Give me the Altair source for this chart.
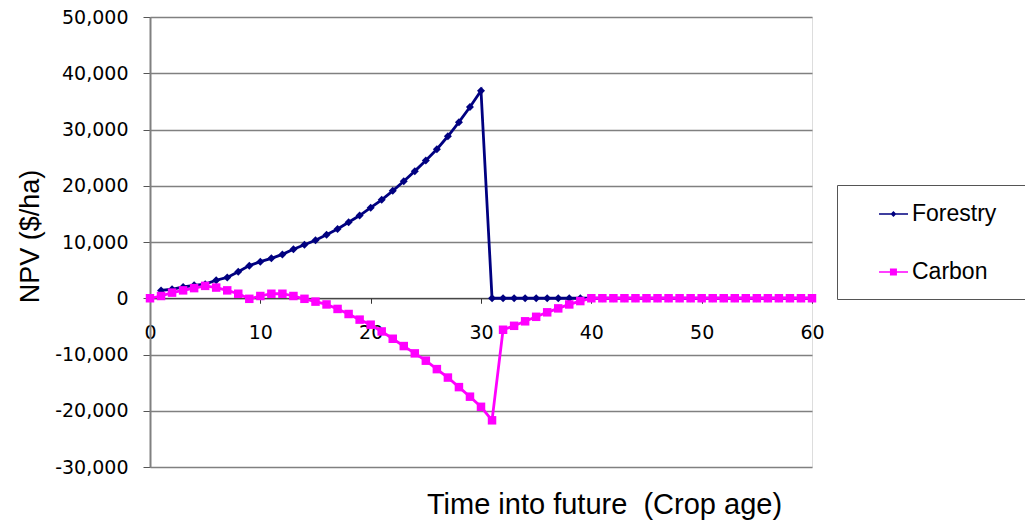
import altair as alt
import pandas as pd

series_names = ["Forestry", "Carbon"]
series_colors = ["#000080", "#FF00FF"]

forestry_age = list(range(1, 61))
forestry_npv = [1400, 1600, 2000, 2300, 2500, 3200, 3700, 4700, 5800, 6500,
                7100, 7800, 8700, 9500, 10300, 11300, 12300, 13500, 14700, 16100,
                17500, 19100, 20800, 22600, 24500, 26500, 28800, 31300, 34000, 36900,
                0, 0, 0, 0, 0, 0, 0, 0, 0, 0,
                0, 0, 0, 0, 0, 0, 0, 0, 0, 0,
                0, 0, 0, 0, 0, 0, 0, 0, 0, 0]

carbon_age = list(range(0, 61))
carbon_npv = [0, 400, 1000, 1400, 1800, 2200, 1900, 1400, 800, -100,
              400, 800, 800, 400, -100, -600, -1100, -1900, -2800, -3800,
              -4700, -5900, -7200, -8500, -9800, -11100, -12600, -14100, -15800, -17500,
              -19300, -21700, -5600, -4900, -4100, -3300, -2500, -1800, -1100, -500,
              0, 0, 0, 0, 0, 0, 0, 0, 0, 0,
              0, 0, 0, 0, 0, 0, 0, 0, 0, 0, 0]

x_ticks = [0, 10, 20, 30, 40, 50, 60]
y_ticks = [-30000, -20000, -10000, 0, 10000, 20000, 30000, 40000, 50000]

# legend glyphs: short line with the series marker in its middle
legend_paths = [
    "M0.93,-0.054H3.0V0.054H0.93Z M1.96,-0.21L2.17,0L1.96,0.21L1.75,0Z",
    "M0.93,-0.054H3.0V0.054H0.93Z M1.71,-0.25H2.21V0.25H1.71Z",
]

df = pd.concat([
    pd.DataFrame({"age": forestry_age, "npv": forestry_npv, "series": "Forestry"}),
    pd.DataFrame({"age": carbon_age, "npv": carbon_npv, "series": "Carbon"}),
], ignore_index=True)

W, H = 662, 450

x_enc = alt.X(
    "age:Q",
    scale=alt.Scale(domain=[0, 60], nice=False, zero=False),
    axis=alt.Axis(
        values=x_ticks, grid=False, offset=-H * 30000 / 80000, labelFlush=False,
        domainColor="#333333", domainWidth=1, tickColor="#333333", tickSize=5,
        labelFont="DejaVu Sans", labelFontSize=19, labelColor="black", labelPadding=20,
        title="Time into future \u00a0(Crop age)", titleFont="Liberation Sans",
        titleFontSize=29, titleFontWeight="normal", titleColor="black",
        titleX=454, titleY=215, titleAlign="center", titleBaseline="alphabetic",
    ),
)
y_enc = alt.Y(
    "npv:Q",
    scale=alt.Scale(domain=[-30000, 50000], nice=False),
    axis=alt.Axis(
        values=y_ticks, labelFlush=False,
        labelExpr="replace(format(datum.value, ','), '\u2212', '-')",
        grid=True, gridColor="#808080", gridWidth=1.5,
        domainColor="#808080", domainWidth=2, tickColor="#555555", tickSize=7,
        labelFont="DejaVu Sans", labelFontSize=19, labelColor="black", labelPadding=15,
        title="NPV ($/ha)", titleFont="Liberation Sans", titleFontSize=27,
        titleFontWeight="normal", titleColor="black",
        titleX=-112, titleY=219, titleAngle=270, titleAlign="center",
        titleBaseline="alphabetic",
    ),
)

base = alt.Chart(df)


def series_layers(name, color, shape, size):
    sub = base.transform_filter(alt.datum.series == name)
    line = sub.mark_line(strokeWidth=2.8, color=color).encode(x=x_enc, y=y_enc)
    pts = sub.mark_point(filled=True, shape=shape, size=size, opacity=1, color=color).encode(
        x=x_enc, y=y_enc)
    return [line, pts]


leg = alt.Legend(
    orient="none", legendX=687, legendY=168, title=None,
    padding=15, fillColor="white", strokeColor="#555555",
    symbolSize=784, symbolStrokeWidth=0, symbolOpacity=1,
    labelOffset=32, labelFont="Liberation Sans", labelFontSize=23,
    labelColor="black", rowPadding=32,
    labelExpr="datum.label + '\u00a0\u00a0\u00a0\u00a0\u200b'",
)
legend_layer = base.transform_filter("datum.age < 0").mark_point(
    filled=True, size=784, opacity=1).encode(
    color=alt.Color("series:N", scale=alt.Scale(domain=series_names, range=series_colors), legend=leg),
    shape=alt.Shape("series:N", scale=alt.Scale(domain=series_names, range=legend_paths), legend=leg),
)

layers = (series_layers("Forestry", series_colors[0], "diamond", 64)
          + series_layers("Carbon", series_colors[1], "square", 72)
          + [legend_layer])

chart = alt.layer(*layers).properties(
    width=W, height=H,
    padding={"left": 150, "top": 17, "right": 213, "bottom": 54},
    autosize=alt.AutoSizeParams(type="none"),
).configure_view(stroke="#888888", strokeWidth=2).configure(background="white")

chart.save("out.html", embed_options={"renderer": "svg", "actions": False})
